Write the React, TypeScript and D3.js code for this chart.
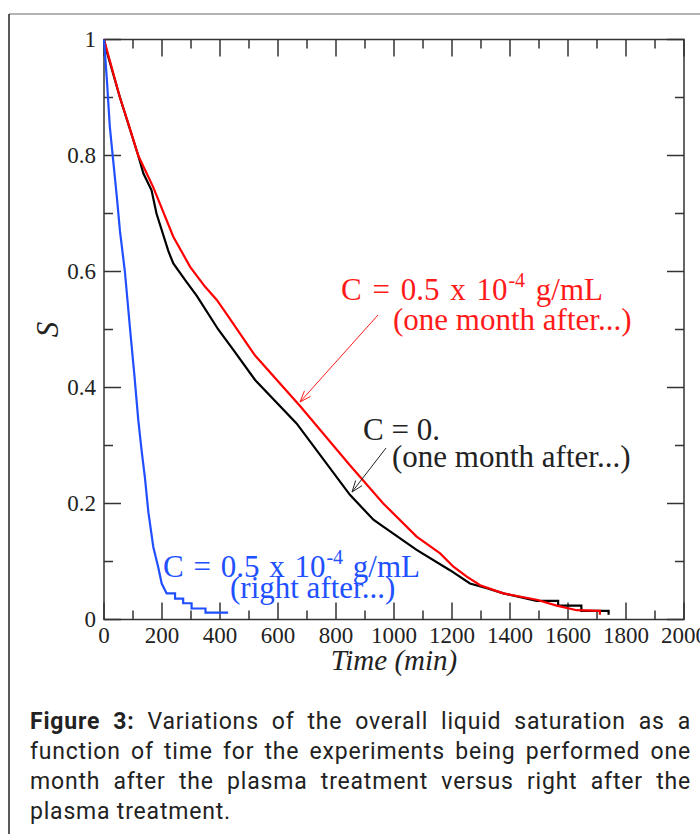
import { useLayoutEffect, useRef } from 'react';
import * as d3 from 'd3';

// saturation curves: [time (min), S]
const blueRightAfter: [number, number][] = [
  [0, 1.0], [10, 0.93], [20, 0.85], [32, 0.79], [44, 0.73], [55, 0.67],
  [72, 0.6], [90, 0.5], [105, 0.42], [118, 0.345], [130, 0.29], [141, 0.245],
  [153, 0.185], [170, 0.125], [187, 0.09], [199, 0.062], [216, 0.045],
  [245, 0.045], [245, 0.036], [273, 0.036], [273, 0.028], [302, 0.028],
  [302, 0.019], [350, 0.019], [350, 0.012], [428, 0.012],
];

const blackC0: [number, number][] = [
  [0, 1.0], [9, 0.98], [55, 0.9], [118, 0.8], [136, 0.769], [164, 0.74],
  [181, 0.7], [222, 0.635], [239, 0.614], [280, 0.585], [320, 0.558],
  [394, 0.5], [446, 0.465], [521, 0.413], [664, 0.338], [848, 0.215],
  [929, 0.172], [963, 0.16], [1078, 0.12], [1193, 0.085], [1262, 0.062],
  [1320, 0.054], [1377, 0.045], [1492, 0.032], [1566, 0.032], [1566, 0.024],
  [1646, 0.024], [1646, 0.015], [1740, 0.015], [1740, 0.008],
];

const redC05: [number, number][] = [
  [0, 1.0], [55, 0.9], [84, 0.855], [118, 0.8], [170, 0.745], [239, 0.66],
  [297, 0.608], [348, 0.574], [389, 0.551], [429, 0.522], [492, 0.476],
  [521, 0.455], [676, 0.368], [848, 0.266], [963, 0.2], [1078, 0.143],
  [1159, 0.114], [1205, 0.091], [1251, 0.074], [1297, 0.059], [1377, 0.045],
  [1492, 0.034], [1561, 0.024], [1630, 0.016], [1710, 0.015], [1710, 0.008],
];

const xTickLabels = [0, 200, 400, 600, 800, 1000, 1200, 1400, 1600, 1800, 2000];
const yTickLabels = [0, 0.2, 0.4, 0.6, 0.8, 1];

const captionLines = [
  'Variations of the overall liquid saturation as a',
  'function of time for the experiments being performed one',
  'month after the plasma treatment versus right after the',
  'plasma treatment.',
];

const serif = '"Liberation Serif", "Times New Roman", serif';

export default function App() {
  const width = 700;
  const height = 834;
  const left = 104, right = 684, top = 39.5, bottom = 619.5;
  const capX = 30, capW = 661;

  const x = d3.scaleLinear().domain([0, 2000]).range([left, right]);
  const y = d3.scaleLinear().domain([0, 1]).range([bottom, top]);

  const line = d3.line<[number, number]>()
    .x(d => x(d[0]))
    .y(d => y(d[1]));

  const xMinor = x.ticks(20);
  const yMinor = y.ticks(10);
  const majorLen = 17, minorLen = 9;
  const axisColor = '#333';

  const isMajorX = (v: number) => Math.abs(v % 200) < 1e-6;
  const isMajorY = (v: number) => Math.abs(Math.round(v * 10) % 2) === 0;

  // justify caption lines by spreading the word gaps
  const capRefs = useRef<(SVGTextElement | null)[]>([]);
  useLayoutEffect(() => {
    capRefs.current.forEach(el => {
      if (!el) return;
      el.setAttribute('word-spacing', '0');
      const w = el.getComputedTextLength();
      const gaps = (el.textContent || '').split(' ').length - 1;
      if (gaps > 0) el.setAttribute('word-spacing', String((capW - w) / gaps));
    });
  }, []);

  return (
    <svg width={width} height={height} style={{ position: 'absolute', left: 0, top: 0, background: '#fff' }}>
      {/* outer figure frame */}
      <line x1={9} y1={14} x2={width} y2={14} stroke="#999" strokeWidth={1.5} />
      <line x1={9} y1={14} x2={9} y2={height} stroke="#222" strokeWidth={1.5} />

      {/* ticks */}
      {xMinor.map(v => {
        const len = isMajorX(v) ? majorLen : minorLen;
        return (
          <g key={'xt' + v} stroke={axisColor} strokeWidth={1.5}>
            <line x1={x(v)} x2={x(v)} y1={bottom} y2={bottom - len} />
            <line x1={x(v)} x2={x(v)} y1={top} y2={top + len} />
          </g>
        );
      })}
      {yMinor.map(v => {
        const len = isMajorY(v) ? majorLen : minorLen;
        return (
          <g key={'yt' + v} stroke={axisColor} strokeWidth={1.5}>
            <line x1={left} x2={left + len} y1={y(v)} y2={y(v)} />
            <line x1={right} x2={right - len} y1={y(v)} y2={y(v)} />
          </g>
        );
      })}
      <rect x={left} y={top} width={right - left} height={bottom - top} fill="none" stroke={axisColor} strokeWidth={1.5} />

      {/* tick labels */}
      {xTickLabels.map(v => (
        <text key={'xl' + v} x={x(v)} y={643} textAnchor="middle" fontFamily={serif} fontSize={23} fill="#222">{v}</text>
      ))}
      {yTickLabels.map(v => (
        <text key={'yl' + v} x={left - 8} y={y(v)} dy="0.33em" textAnchor="end" fontFamily={serif} fontSize={23} fill="#222">{String(+v.toFixed(1))}</text>
      ))}

      {/* axis titles */}
      <text x={x(1000)} y={670} textAnchor="middle" fontFamily={serif} fontStyle="italic" fontSize={29} fill="#222">Time (min)</text>
      <text transform={`translate(58,${y(0.5)}) rotate(-90)`} textAnchor="middle" fontFamily={serif} fontStyle="italic" fontSize={31} fill="#222">S</text>

      {/* data */}
      <path d={line(blackC0) ?? ''} fill="none" stroke="#000" strokeWidth={2.2} />
      <path d={line(redC05) ?? ''} fill="none" stroke="#ff0000" strokeWidth={2.2} />
      <path d={line(blueRightAfter) ?? ''} fill="none" stroke="#1f4fff" strokeWidth={2.2} />

      {/* annotations */}
      <g fontFamily={serif} fontSize={31}>
        <text x={341} y={300} fill="#ff1a1a" wordSpacing={3}>
          C = 0.5 x 10<tspan dx={1} dy={-13} fontSize={20}>-4</tspan><tspan dy={13}> g/mL</tspan>
        </text>
        <text x={393} y={330} fill="#ff1a1a">(one month after...)</text>
        <text x={363} y={440} fill="#222">C = 0.</text>
        <text x={392} y={467} fill="#222">(one month after...)</text>
        <text x={163} y={577} fill="#2050ff" wordSpacing={2}>
          C = 0.5 x 10<tspan dx={1} dy={-13} fontSize={20}>-4</tspan><tspan dy={13}> g/mL</tspan>
        </text>
        <text x={230} y={598} fill="#2050ff">(right after...)</text>
      </g>

      {/* arrows */}
      <Arrow x1={378} y1={315} x2={300} y2={402} color="#ff1a1a" />
      <Arrow x1={386} y1={448} x2={352} y2={492} color="#222" />

      {/* caption */}
      <g fontFamily="Roboto, sans-serif" fontSize={23} fill="#222" letterSpacing={0.8}>
        <text ref={el => { capRefs.current[0] = el; }} x={capX} y={729}>
          <tspan fontWeight="bold">Figure 3:</tspan> {captionLines[0]}
        </text>
        <text ref={el => { capRefs.current[1] = el; }} x={capX} y={759}>{captionLines[1]}</text>
        <text ref={el => { capRefs.current[2] = el; }} x={capX} y={789}>{captionLines[2]}</text>
        <text x={capX} y={819}>{captionLines[3]}</text>
      </g>
    </svg>
  );
}

function Arrow({ x1, y1, x2, y2, color }: { x1: number; y1: number; x2: number; y2: number; color: string }) {
  const ang = Math.atan2(y2 - y1, x2 - x1);
  const head = 12, spread = 0.35;
  const a1 = ang + Math.PI - spread;
  const a2 = ang + Math.PI + spread;
  return (
    <g stroke={color} strokeWidth={1} fill="none">
      <line x1={x1} y1={y1} x2={x2} y2={y2} />
      <polyline points={`${x2 + head * Math.cos(a1)},${y2 + head * Math.sin(a1)} ${x2},${y2} ${x2 + head * Math.cos(a2)},${y2 + head * Math.sin(a2)}`} />
    </g>
  );
}
